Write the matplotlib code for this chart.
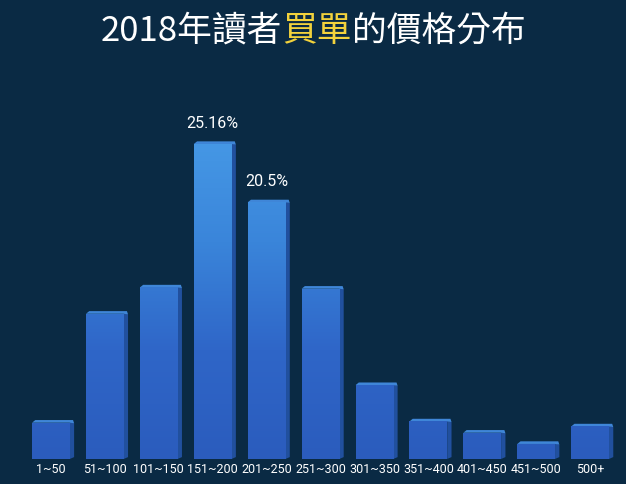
import matplotlib
matplotlib.use("Agg")
import matplotlib.pyplot as plt
import numpy as np
from matplotlib.colors import LinearSegmentedColormap
from matplotlib.patches import Polygon

plt.rcParams['font.family'] = ['Noto Sans CJK TC', 'DejaVu Sans']

categories = ["1~50", "51~100", "101~150", "151~200", "201~250", "251~300",
              "301~350", "351~400", "401~450", "451~500", "500+"]
values = [2.9, 11.6, 13.7, 25.16, 20.5, 13.6, 5.9, 3.0, 2.1, 1.2, 2.6]
labeled = {"151~200": "25.16%", "201~250": "20.5%"}

bg = "#0a2a44"
fig = plt.figure(figsize=(6.26, 4.84), dpi=100, facecolor=bg)
ax = fig.add_axes([0.034, 0.0517, 0.956, 0.776])
ax.set_facecolor(bg)
ax.set_xlim(-0.55, 10.55)
ax.set_ylim(0, 30)
for s in ax.spines.values():
    s.set_visible(False)
ax.set_yticks([])
ax.set_xticks([])

x = np.arange(len(categories))
w = 0.70
cmap = LinearSegmentedColormap.from_list("b", ["#2b5cbd", "#2f66c8", "#3a85da", "#4699e6"])
grad = np.linspace(0, 1, 256).reshape(-1, 1)

bars = ax.bar(x, values, width=w, color="none", edgecolor="none", zorder=3)
side_dx = 0.08
top_dy = 0.35
for xi, v, b in zip(x, values, bars):
    xr = xi + w / 2
    xl = xi - w / 2
    side = Polygon([[xr, 0], [xr + side_dx, 0.15], [xr + side_dx, v - 0.05], [xr, v + 0.05]],
                   closed=True, facecolor="#21509e", edgecolor="none", zorder=2)
    ax.add_patch(side)
    top = Polygon([[xl, v], [xl + 0.06, v + top_dy * 0.6], [xr + side_dx - 0.02, v + top_dy * 0.6],
                   [xr + side_dx, v - 0.05], [xr, v]],
                  closed=True, facecolor="#3f86d8", edgecolor="none", zorder=2)
    ax.add_patch(top)
    im = ax.imshow(grad, cmap=cmap, aspect="auto", origin="lower",
                   extent=[xl, xr, 0, 26], vmin=0, vmax=1, zorder=3,
                   interpolation="bilinear")
    im.set_clip_path(b)

num_font = ['Roboto', 'DejaVu Sans']
for xi, v, c in zip(x, values, categories):
    ax.text(xi, -0.85, c, ha="center", va="center", color="white", fontsize=9,
            family=num_font, clip_on=False)
    if c in labeled:
        ax.text(xi, v + 1.65, labeled[c], ha="center", va="center", color="white",
                fontsize=11.5, family=num_font)

# Title with colored segment
parts = [("2018年讀者", "white"), ("買單", "#f2d23c"), ("的價格分布", "white")]
fs = 25
renderer = fig.canvas.get_renderer()
texts = []
for s, col in parts:
    t = fig.text(0, 0.935, s, color=col, fontsize=fs, va="center", ha="left",
                 family=['Noto Sans CJK TC', 'DejaVu Sans'])
    texts.append(t)
widths = [t.get_window_extent(renderer).width for t in texts]
total = sum(widths)
start = (fig.bbox.width - total) / 2
for t, wd in zip(texts, widths):
    t.set_x(start / fig.bbox.width)
    start += wd

fig.savefig("out.png", dpi=100, facecolor=bg)
